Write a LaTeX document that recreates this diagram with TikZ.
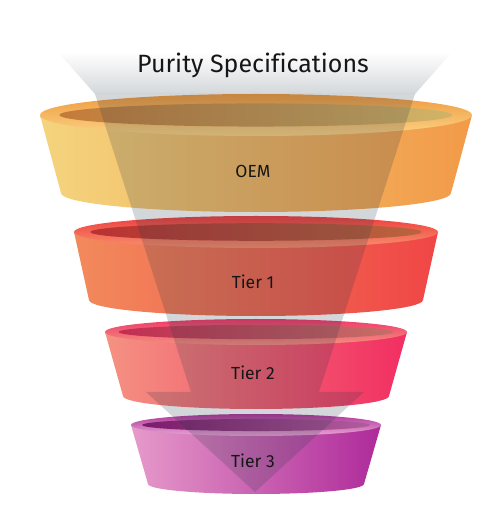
\documentclass[tikz,border=0pt]{standalone}
\usepackage{fontspec}
\setmainfont[Ligatures=CommonOff]{Fira Sans}
\usetikzlibrary{positioning}

\definecolor{ink}{HTML}{161616}
\definecolor{arrowgrey}{HTML}{283746}
\definecolor{oemleft}{HTML}{F4D47E}
\definecolor{oemright}{HTML}{F29A48}
\definecolor{oemrim}{HTML}{F09A3E}
\definecolor{oemband}{HTML}{FAD486}
\definecolor{oeminl}{HTML}{C27A3A}
\definecolor{oeminr}{HTML}{D0B468}
\definecolor{tieroneleft}{HTML}{F28A5C}
\definecolor{tieroneright}{HTML}{F04646}
\definecolor{tieronerim}{HTML}{EE3E3E}
\definecolor{tieroneband}{HTML}{F8906E}
\definecolor{tieroneinl}{HTML}{B83232}
\definecolor{tieroneinr}{HTML}{B8643E}
\definecolor{tiertwoleft}{HTML}{F49282}
\definecolor{tiertworight}{HTML}{F22E62}
\definecolor{tiertworim}{HTML}{F03A6A}
\definecolor{tiertwoband}{HTML}{F4907E}
\definecolor{tiertwoinl}{HTML}{C02E52}
\definecolor{tiertwoinr}{HTML}{C46E68}
\definecolor{tierthreeleft}{HTML}{E69ACA}
\definecolor{tierthreeright}{HTML}{AE2A9A}
\definecolor{tierthreerim}{HTML}{B0369C}
\definecolor{tierthreeband}{HTML}{E8A6D4}
\definecolor{tierthreeinl}{HTML}{7A1C6A}
\definecolor{tierthreeinr}{HTML}{B05C9C}

\begin{document}
\begin{tikzpicture}[x=1pt,y=1pt,
	tierlabel/.style={font=\fontsize{17.5}{20}\selectfont, text=ink, anchor=base},
	heading/.style={font=\fontsize{25}{30}\selectfont, text=ink, anchor=base}]

	\fill[white] (0,0) rectangle (500,512);
	\useasboundingbox (0,0) rectangle (500,512);

	% flare of the arrow, fading out at the top
	\shade[top color=white, bottom color=arrowgrey!20!white] (58,460) -- (452,460) -- (415,418) -- (95,418) -- cycle;

	% bowls: name/top y/top rx/top ry/bottom y/bottom rx/bottom ry
	\foreach \tn/\yt/\rt/\ryt/\yb/\rb/\ryb in {oem/397/216/21/319/195/19, tierone/280/182/16/212/167/16, tiertwo/180/151/13/116/133/13, tierthree/87/125/11/28/108/10}{
		\shade[left color=\tn left, right color=\tn right] (256-\rt,\yt) -- (256-\rb,\yb)
			arc[start angle=180, end angle=360, x radius=\rb, y radius=\ryb] -- (256+\rt,\yt) -- cycle;
		\shade[top color=\tn rim, bottom color=\tn band] (256,\yt) ellipse[x radius=\rt, y radius=\ryt];
		\shade[left color=\tn inl, right color=\tn inr] (256,\yt) ellipse[x radius=0.91*\rt, y radius=0.55*\ryt];
	}

	% the arrow through the funnel
	\fill[arrowgrey, fill opacity=0.2] (95,418) -- (191,120) -- (146,120) -- (255,20) -- (364,120) -- (319,120) -- (415,418) -- cycle;

	\node[heading] (title) at (253,439) {Purity Specifications};
	\node[tierlabel] (oem) at (253,334) {OEM};
	\node[tierlabel] (t1) at (253,223) {Tier 1};
	\node[tierlabel] (t2) at (253,132) {Tier 2};
	\node[tierlabel] (t3) at (253,44) {Tier 3};
\end{tikzpicture}
\end{document}
